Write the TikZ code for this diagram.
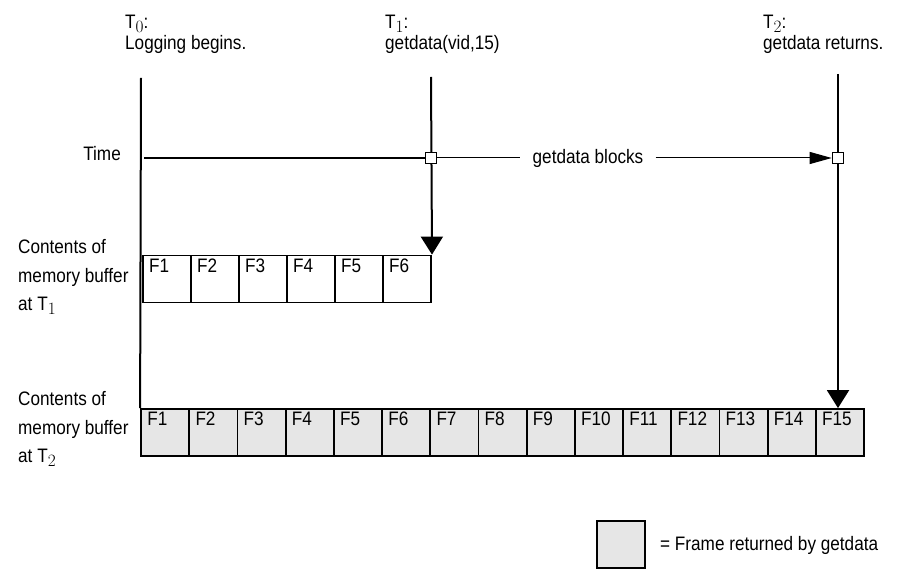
\documentclass[tikz,border=0pt]{standalone}
\usepackage{fontspec}
\setmainfont{Liberation Sans}[FakeStretch=0.88]
\usetikzlibrary{arrows.meta,positioning}
\definecolor{framegray}{HTML}{E6E6E6}
\newcommand\tsub[1]{\raisebox{-4pt}{\fontsize{16}{16}\selectfont$#1$}}
\tikzset{
  txt/.style={align=left,inner sep=0pt,font=\fontsize{19.5}{21}\selectfont},
  side/.style={align=left,inner sep=0pt,font=\fontsize{19.5}{28.5}\selectfont},
  frm/.style={draw,line width=1.8pt,minimum width=48.2pt,minimum height=47pt,inner sep=0pt},
  fno/.style={anchor=north west,inner sep=0pt,font=\fontsize{19.5}{21}\selectfont},
  sqbox/.style={draw,fill=white,line width=1.6pt,minimum size=11pt,inner sep=0pt},
  bigtip/.style={-{Triangle[width=22pt,length=18pt]}},
}
\begin{document}
\begin{tikzpicture}[x=1pt,y=-1pt]
  \useasboundingbox (0,0) rectangle (903,569);
  % labels at the top
  \node[txt,anchor=base west] (t0lbl) at (125,29) {T\tsub{0}:};
  \node[txt,anchor=base west] (t0txt) at (125,50) {Logging begins.};
  \node[txt,anchor=base west] (t1lbl) at (385,29) {T\tsub{1}:};
  \node[txt,anchor=base west] (t1txt) at (385,50) {getdata(vid,15)};
  \node[txt,anchor=base west] (t2lbl) at (763,29) {T\tsub{2}:};
  \node[txt,anchor=base west] (t2txt) at (763,50) {getdata returns.};
  \node[txt,anchor=east] (time) at (121,154) {Time};
  \node[side,anchor=west] (buf1lbl) at (18,277) {Contents of\\memory buffer\\at T\tsub{1}};
  \node[side,anchor=west] (buf2lbl) at (18,429) {Contents of\\memory buffer\\at T\tsub{2}};
  % frames
  \foreach \i in {1,...,6}{
    \node[frm] (a\i) at ({143+48*(\i-0.5)},279) {};
    \node[fno] (a\i lbl) at ([shift={(7,4)}]a\i.north west) {F\i};
  }
  \foreach \i in {1,...,15}{
    \node[frm,fill=framegray] (b\i) at ({141+48.2*(\i-0.5)},432.5) {};
    \node[fno] (b\i lbl) at ([shift={(7,4)}]b\i.north west) {F\i};
  }
  % time lines
  \coordinate (t0top) at (141,78);
  \coordinate (t1top) at (431,77);
  \coordinate (t2top) at (838,74);
  \draw[line width=2pt] (t0top) -- (b1.north west);
  \draw[line width=2pt,bigtip] (t1top) -- (a6.north east);
  \draw[line width=2pt,bigtip] (t2top) -- (t2top |- b15.north);
  \node[sqbox] (s1) at (431,158) {};
  \node[sqbox] (s2) at (838,158) {};
  \coordinate (tstart) at (144,158);
  \draw[line width=2pt] (tstart) -- (s1.west);
  \node[txt] (blocks) at (588,158) {getdata blocks};
  \draw[line width=1pt] (s1.east) -- ([xshift=-12pt]blocks.west);
  \draw[line width=1pt,-{Triangle[width=12pt,length=22pt]}] ([xshift=12pt]blocks.east) -- (s2.west);
  % legend
  \node[frm,fill=framegray,minimum height=47pt] (key) at (621,544.5) {};
  \node[txt,anchor=west] (keylbl) at (660,545) {= Frame returned by getdata};
\end{tikzpicture}
\end{document}
